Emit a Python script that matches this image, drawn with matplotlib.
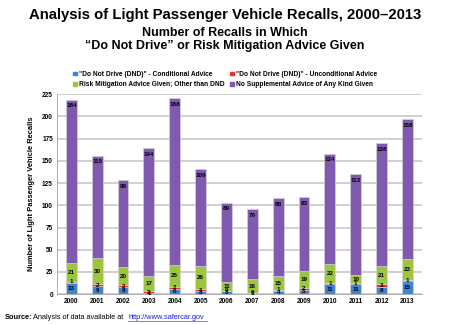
import numpy as np
import matplotlib.pyplot as plt
from matplotlib.patches import Patch

plt.rcParams['font.family'] = ['Liberation Sans', 'DejaVu Sans']

years = ['2000', '2001', '2002', '2003', '2004', '2005', '2006',
         '2007', '2008', '2009', '2010', '2011', '2012', '2013']
dnd_cond = [13, 9, 8, 1, 6, 3, 3, 1, 4, 5, 11, 11, 8, 15]
dnd_uncond = [1, 2, 2, 2, 2, 3, 0, 0, 1, 2, 1, 1, 3, 1]
risk_mit = [21, 30, 20, 17, 25, 26, 11, 16, 15, 19, 22, 10, 21, 23]
no_advice = [184, 115, 98, 144, 188, 109, 89, 79, 88, 83, 124, 113, 138, 158]

series = [
    ('"Do Not Drive (DND)" - Conditional Advice', dnd_cond, '#3d86d6'),
    ('"Do Not Drive (DND)" - Unconditional Advice', dnd_uncond, '#e8322c'),
    ('Risk Mitigation Advice Given; Other than DND', risk_mit, '#9cc63e'),
    ('No Supplemental Advice of Any Kind Given', no_advice, '#7f5aae'),
]

fig = plt.figure(figsize=(4.5, 3.25), dpi=100)
ax = fig.add_axes([0.127, 0.095, 0.81, 0.615])

x = np.arange(len(years))
bottom = np.zeros(len(years))
for name, vals, col in series:
    vals = np.array(vals)
    ax.bar(x, vals, 0.42, bottom=bottom, color=col, edgecolor='#d8d8d8',
           linewidth=0.4, label=name, zorder=3)
    for xi, b, v in zip(x, bottom, vals):
        if col == '#7f5aae':
            ax.text(xi, b + v - 7, str(v), ha='center', va='center',
                    fontsize=4.5, fontweight='bold', zorder=4)
        else:
            ax.text(xi, b + max(v, 1.5) / 2, str(v), ha='center', va='center',
                    fontsize=4.5, fontweight='bold', zorder=4)
    bottom += vals

ax.set_xlim(-0.55, len(years) - 0.45)
ax.set_ylim(0, 225)
ax.set_yticks(range(0, 226, 25))
ax.set_xticks(x)
ax.set_xticklabels(years)
ax.tick_params(labelsize=4.7, length=0, pad=3)
for lab in ax.get_xticklabels() + ax.get_yticklabels():
    lab.set_fontweight('bold')
ax.yaxis.grid(True, color='#c8c8c8', linewidth=1.2, zorder=0)
for s in ['top', 'right']:
    ax.spines[s].set_visible(False)
ax.spines['left'].set_color('#a0a0a0')
ax.spines['bottom'].set_color('#a0a0a0')
ax.spines['left'].set_linewidth(0.6)
ax.spines['bottom'].set_linewidth(0.6)
ax.set_ylabel('Number of Light Passenger Vehicle Recalls', fontsize=5.4,
              fontweight='bold', labelpad=5)

# legend fills column-wise, so order as cond, risk, uncond, none
order = [0, 2, 1, 3]
handles = [Patch(color=series[i][2]) for i in order]
labels = [series[i][0] for i in order]
fig.legend(handles, labels, loc='center', bbox_to_anchor=(0.5, 0.755), ncol=2,
           frameon=False, prop={'size': 4.8, 'weight': 'bold'},
           handlelength=0.5, handleheight=0.5, handletextpad=0.3,
           columnspacing=0.9, labelspacing=0.5)

fig.text(0.5, 0.955, 'Analysis of Light Passenger Vehicle Recalls, 2000\u20132013',
         ha='center', va='center', fontsize=10.7, fontweight='bold')
fig.text(0.5, 0.9, 'Number of Recalls in Which', ha='center', va='center',
         fontsize=9, fontweight='bold')
fig.text(0.5, 0.858, '\u201cDo Not Drive\u201d or Risk Mitigation Advice Given',
         ha='center', va='center', fontsize=9, fontweight='bold')

fig.text(0.011, 0.022, 'Source:', fontsize=5.3, fontweight='bold', va='center')
fig.text(0.074, 0.022, 'Analysis of data available at', fontsize=5.3, va='center')
fig.text(0.285, 0.022, 'http://www.safercar.gov', fontsize=5.3, va='center',
         color='#1a1aee', url='http://www.safercar.gov')
fig.add_artist(plt.Line2D([0.285, 0.46], [0.012, 0.012], color='#1a1aee',
                          linewidth=0.4, transform=fig.transFigure))

fig.savefig('out.png', dpi=100)
